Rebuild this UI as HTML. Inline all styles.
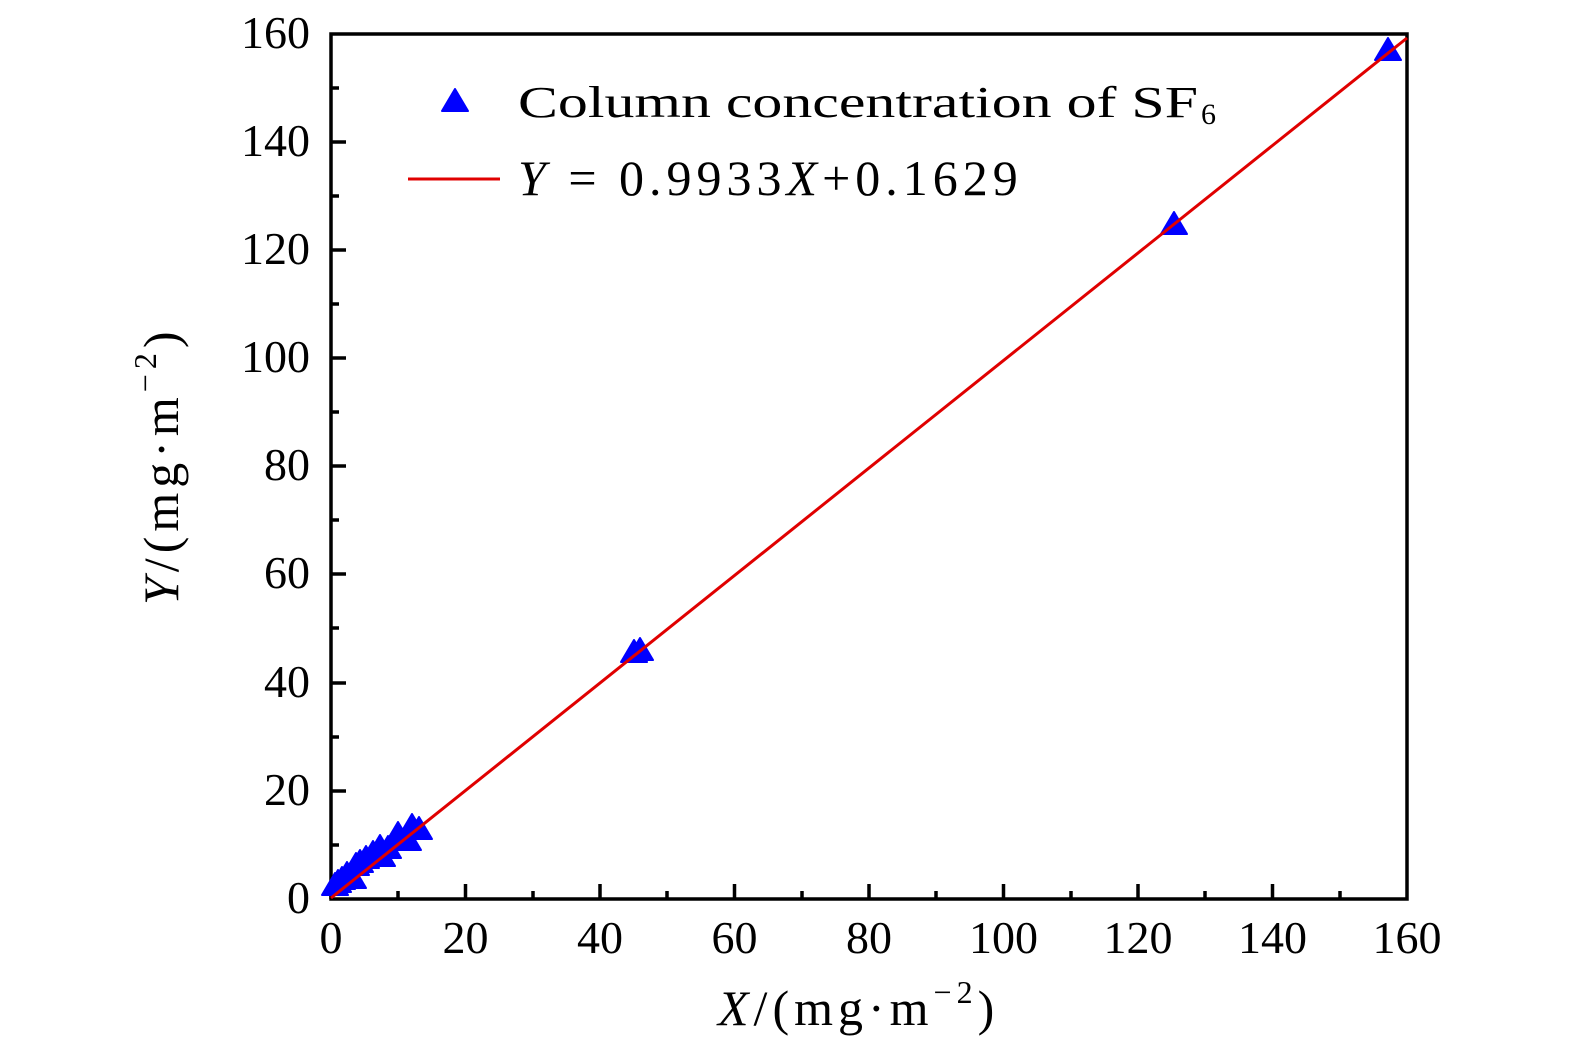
<!DOCTYPE html>
<html><head><meta charset="utf-8"><style>html,body{margin:0;padding:0;background:#fff}svg{display:block}</style></head>
<body>
<svg width="1575" height="1053" viewBox="0 0 1575 1053" xmlns="http://www.w3.org/2000/svg" font-family="Liberation Serif, serif">
<defs><polygon id="t" points="0,-12 13,10 -13,10" fill="#0000ff" stroke="#0000ff" stroke-width="2" stroke-linejoin="round"/></defs>
<g stroke="#000" stroke-width="3.5">
<rect x="331" y="34" width="1076" height="865" fill="none"/>
<path d="M331,899v-15M465.5,899v-15M600,899v-15M734.5,899v-15M869,899v-15M1003.5,899v-15M1138,899v-15M1272.5,899v-15
M398,899v-8M533,899v-8M667,899v-8M802,899v-8M936,899v-8M1071,899v-8M1205,899v-8M1340,899v-8
M331,791h15M331,683h15M331,574h15M331,466h15M331,358h15M331,250h15M331,142h15
M331,845h8M331,737h8M331,628h8M331,520h8M331,412h8M331,304h8M331,196h8M331,88h8"/>
</g>
<g font-size="46" text-anchor="middle">
<text x="331" y="953">0</text><text x="465.5" y="953">20</text><text x="600" y="953">40</text><text x="734.5" y="953">60</text><text x="869" y="953">80</text><text x="1003.5" y="953">100</text><text x="1138" y="953">120</text><text x="1272.5" y="953">140</text><text x="1407" y="953">160</text>
</g>
<g font-size="46" text-anchor="end">
<text x="310" y="913">0</text><text x="310" y="805">20</text><text x="310" y="697">40</text><text x="310" y="588">60</text><text x="310" y="480">80</text><text x="310" y="372">100</text><text x="310" y="264">120</text><text x="310" y="156">140</text><text x="310" y="48">160</text>
</g>
<g>
<use href="#t" x="335" y="885"/><use href="#t" x="338" y="882"/><use href="#t" x="342" y="879"/><use href="#t" x="347" y="874"/><use href="#t" x="353" y="878"/><use href="#t" x="356" y="865"/><use href="#t" x="360" y="862"/><use href="#t" x="366" y="858"/><use href="#t" x="373" y="853"/><use href="#t" x="380" y="847"/><use href="#t" x="382" y="856"/><use href="#t" x="388" y="848"/><use href="#t" x="398" y="834"/><use href="#t" x="405" y="840"/><use href="#t" x="408" y="840"/><use href="#t" x="412" y="826"/><use href="#t" x="419" y="829"/>
<use href="#t" x="634" y="652"/><use href="#t" x="640" y="650"/>
<use href="#t" x="1174" y="224"/><use href="#t" x="1388" y="50"/>
</g>
<line x1="331" y1="898" x2="1407" y2="38" stroke="#e00000" stroke-width="3"/>
<use href="#t" x="455" y="101"/>
<line x1="408" y1="179" x2="500" y2="179" stroke="#e00000" stroke-width="3"/>
<text x="518" y="117" font-size="44" textLength="680" lengthAdjust="spacingAndGlyphs">Column concentration of SF</text>
<text x="1201" y="124" font-size="30">6</text>
<text x="518" y="195" font-size="50" letter-spacing="5"><tspan font-style="italic">Y</tspan> = 0.9933<tspan font-style="italic">X</tspan>+0.1629</text>
<text x="718" y="1025" font-size="50" letter-spacing="5"><tspan font-style="italic">X</tspan>/(mg·m<tspan font-size="32" dy="-22">−2</tspan><tspan dy="22">)</tspan></text>
<g transform="translate(178,605) rotate(-90)">
<text x="0" y="0" font-size="50" letter-spacing="5"><tspan font-style="italic">Y</tspan>/(mg·m<tspan font-size="32" dy="-22">−2</tspan><tspan dy="22">)</tspan></text>
</g>
</svg>
</body></html>
